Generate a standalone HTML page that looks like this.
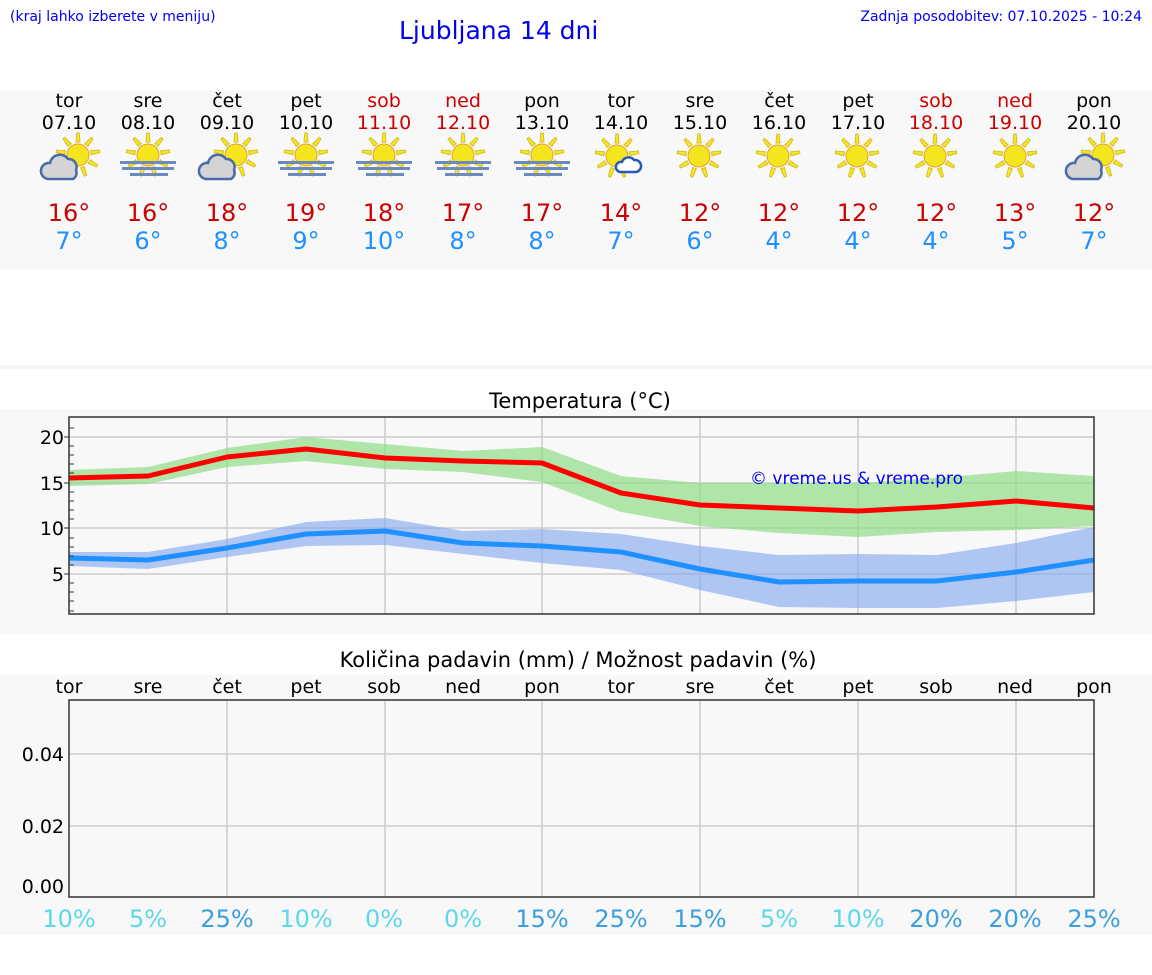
<!DOCTYPE html>
<html><head><meta charset="utf-8"><style>
body{margin:0;background:#fff}
svg{display:block;font-family:"DejaVu Sans","Liberation Sans",sans-serif}
</style></head><body>
<svg width="1152" height="975" viewBox="0 0 1152 975" xmlns="http://www.w3.org/2000/svg">
<defs>
<g id="sun">
 <g stroke="#d8c020" stroke-width="1" fill="#f5e62a">
  <polygon points="-2,-13 2,-13 1.2,-22 -1.2,-22" transform="rotate(0)"/>
  <polygon points="-2,-13 2,-13 1.2,-22 -1.2,-22" transform="rotate(40)"/>
  <polygon points="-2,-13 2,-13 1.2,-22 -1.2,-22" transform="rotate(80)"/>
  <polygon points="-2,-13 2,-13 1.2,-22 -1.2,-22" transform="rotate(120)"/>
  <polygon points="-2,-13 2,-13 1.2,-22 -1.2,-22" transform="rotate(160)"/>
  <polygon points="-2,-13 2,-13 1.2,-22 -1.2,-22" transform="rotate(200)"/>
  <polygon points="-2,-13 2,-13 1.2,-22 -1.2,-22" transform="rotate(240)"/>
  <polygon points="-2,-13 2,-13 1.2,-22 -1.2,-22" transform="rotate(280)"/>
  <polygon points="-2,-13 2,-13 1.2,-22 -1.2,-22" transform="rotate(320)"/>
 </g>
 <circle r="11" fill="#f3e51e" stroke="#e8a030" stroke-width="1"/>
</g>
<g id="fog"><use href="#sun" x="0" y="0"/>
 <rect x="-28" y="6" width="56" height="3" fill="#6a8ac0"/>
 <rect x="-26" y="12" width="52" height="3" fill="#6a8ac0"/>
 <rect x="-18" y="18" width="38" height="3" fill="#6a8ac0"/>
</g>
<g id="pc"><use href="#sun"/>
 <path d="M-30,24 a8,8 0 0 1 2,-16 a10,10 0 0 1 18,-4 a8,8 0 0 1 8,11 a7,7 0 0 1 -3,9 z" fill="#d4d4d4" stroke="#4a6aa8" stroke-width="2.5"/>
</g>
<g id="sc"><use href="#sun"/>
 <path d="M3,16 a5,5 0 0 1 2,-10 a7,7 0 0 1 12,-2 a6,6 0 0 1 2,12 z" fill="#fff" stroke="#2a5ab8" stroke-width="2.5"/>
</g>
</defs>
<rect width="1152" height="975" fill="#fff"/>
<text x="10" y="21" font-size="14" fill="#0000ee">(kraj lahko izberete v meniju)</text>
<text x="399" y="39" font-size="25" fill="#0000ee">Ljubljana 14 dni</text>
<text x="1142" y="21" font-size="14" fill="#0000ee" text-anchor="end">Zadnja posodobitev: 07.10.2025 - 10:24</text>

<rect x="0" y="90" width="1152" height="180" fill="#f8f8f8"/>
<rect x="0" y="365" width="1152" height="4" fill="#f6f6f6"/>
<rect x="0" y="409" width="1152" height="225" fill="#f8f8f8"/>
<rect x="0" y="675" width="1152" height="260" fill="#f8f8f8"/>

<g font-size="19" text-anchor="middle">
<text x="69" y="107">tor</text><text x="69" y="129">07.10</text>
<text x="148" y="107">sre</text><text x="148" y="129">08.10</text>
<text x="227" y="107">čet</text><text x="227" y="129">09.10</text>
<text x="306" y="107">pet</text><text x="306" y="129">10.10</text>
<text x="384" y="107" fill="#cc0000">sob</text><text x="384" y="129" fill="#cc0000">11.10</text>
<text x="463" y="107" fill="#cc0000">ned</text><text x="463" y="129" fill="#cc0000">12.10</text>
<text x="542" y="107">pon</text><text x="542" y="129">13.10</text>
<text x="621" y="107">tor</text><text x="621" y="129">14.10</text>
<text x="700" y="107">sre</text><text x="700" y="129">15.10</text>
<text x="779" y="107">čet</text><text x="779" y="129">16.10</text>
<text x="858" y="107">pet</text><text x="858" y="129">17.10</text>
<text x="936" y="107" fill="#cc0000">sob</text><text x="936" y="129" fill="#cc0000">18.10</text>
<text x="1015" y="107" fill="#cc0000">ned</text><text x="1015" y="129" fill="#cc0000">19.10</text>
<text x="1094" y="107">pon</text><text x="1094" y="129">20.10</text>
</g>
<use href="#pc" x="78" y="155"/>
<use href="#fog" x="148" y="155"/>
<use href="#pc" x="236" y="155"/>
<use href="#fog" x="306" y="155"/>
<use href="#fog" x="384" y="155"/>
<use href="#fog" x="463" y="155"/>
<use href="#fog" x="542" y="155"/>
<use href="#sc" x="617" y="156"/>
<use href="#sun" x="699" y="156"/>
<use href="#sun" x="778" y="156"/>
<use href="#sun" x="857" y="156"/>
<use href="#sun" x="935" y="156"/>
<use href="#sun" x="1015" y="156"/>
<use href="#pc" x="1103" y="155"/>

<g font-size="24" text-anchor="middle" fill="#cc0000">
<text x="69" y="221">16°</text><text x="148" y="221">16°</text><text x="227" y="221">18°</text><text x="306" y="221">19°</text><text x="384" y="221">18°</text><text x="463" y="221">17°</text><text x="542" y="221">17°</text><text x="621" y="221">14°</text><text x="700" y="221">12°</text><text x="779" y="221">12°</text><text x="858" y="221">12°</text><text x="936" y="221">12°</text><text x="1015" y="221">13°</text><text x="1094" y="221">12°</text>
</g>
<g font-size="24" text-anchor="middle" fill="#1e90ff">
<text x="69" y="249">7°</text><text x="148" y="249">6°</text><text x="227" y="249">8°</text><text x="306" y="249">9°</text><text x="384" y="249">10°</text><text x="463" y="249">8°</text><text x="542" y="249">8°</text><text x="621" y="249">7°</text><text x="700" y="249">6°</text><text x="779" y="249">4°</text><text x="858" y="249">4°</text><text x="936" y="249">4°</text><text x="1015" y="249">5°</text><text x="1094" y="249">7°</text>
</g>

<!-- Temperature chart -->
<text x="580" y="408" font-size="21" text-anchor="middle">Temperatura (°C)</text>
<g stroke="#cccccc" stroke-width="1.5">
<line x1="69" y1="437" x2="1094" y2="437"/><line x1="69" y1="483" x2="1094" y2="483"/><line x1="69" y1="528" x2="1094" y2="528"/><line x1="69" y1="574" x2="1094" y2="574"/>
<line x1="227" y1="417" x2="227" y2="614"/><line x1="385" y1="417" x2="385" y2="614"/><line x1="542" y1="417" x2="542" y2="614"/><line x1="700" y1="417" x2="700" y2="614"/><line x1="858" y1="417" x2="858" y2="614"/><line x1="1016" y1="417" x2="1016" y2="614"/>
</g>
<polygon fill="#90dd88" opacity="0.7" points="69,470 148,467 227,448 306,437 385,444 463,451 542,447 621,476 700,483 779,483 858,483 937,478 1016,471 1094,476 1094,526 1016,530 937,532 858,537 779,533 700,526 621,512 542,482 463,472 385,469 306,461 227,467 148,484 69,486"/>
<polygon fill="#88aaee" opacity="0.65" points="69,552 148,552 227,539 306,522 385,518 463,531 542,529 621,534 700,546 779,555 858,554 937,555 1016,543 1094,527 1094,592 1016,601 937,608 858,608 779,607 700,590 621,570 542,563 463,554 385,545 306,546 227,557 148,569 69,566"/>
<polyline fill="none" stroke="#ff0000" stroke-width="5" stroke-linejoin="round" points="69,478 148,476 227,457 306,449 385,458 463,461 542,463 621,493 700,505 779,508 858,511 937,507 1016,501 1094,508"/>
<polyline fill="none" stroke="#1e90ff" stroke-width="5" stroke-linejoin="round" points="69,558 148,560 227,548 306,534 385,531 463,543 542,546 621,552 700,569 779,582 858,581 937,581 1016,572 1094,560"/>
<text x="750" y="484" font-size="17" fill="#0000ee">© vreme.us &amp; vreme.pro</text>
<rect x="69" y="417" width="1025" height="197" fill="none" stroke="#333" stroke-width="1.5"/>
<g stroke="#333" stroke-width="1">
<line x1="69" y1="428" x2="74" y2="428"/><line x1="69" y1="446" x2="74" y2="446"/><line x1="69" y1="455" x2="74" y2="455"/><line x1="69" y1="464" x2="74" y2="464"/><line x1="69" y1="473" x2="74" y2="473"/><line x1="69" y1="492" x2="74" y2="492"/><line x1="69" y1="501" x2="74" y2="501"/><line x1="69" y1="510" x2="74" y2="510"/><line x1="69" y1="519" x2="74" y2="519"/><line x1="69" y1="538" x2="74" y2="538"/><line x1="69" y1="547" x2="74" y2="547"/><line x1="69" y1="556" x2="74" y2="556"/><line x1="69" y1="565" x2="74" y2="565"/><line x1="69" y1="583" x2="74" y2="583"/><line x1="69" y1="592" x2="74" y2="592"/><line x1="69" y1="601" x2="74" y2="601"/><line x1="69" y1="611" x2="74" y2="611"/>
<line x1="64" y1="437" x2="69" y2="437"/><line x1="64" y1="483" x2="69" y2="483"/><line x1="64" y1="528" x2="69" y2="528"/><line x1="64" y1="574" x2="69" y2="574"/>
</g>
<g font-size="19" text-anchor="end">
<text x="64" y="444">20</text><text x="64" y="490">15</text><text x="64" y="535">10</text><text x="64" y="581">5</text>
</g>

<!-- Precip chart -->
<text x="578" y="667" font-size="21" text-anchor="middle">Količina padavin (mm) / Možnost padavin (%)</text>
<g font-size="19" text-anchor="middle">
<text x="69" y="693">tor</text><text x="148" y="693">sre</text><text x="227" y="693">čet</text><text x="306" y="693">pet</text><text x="384" y="693">sob</text><text x="463" y="693">ned</text><text x="542" y="693">pon</text><text x="621" y="693">tor</text><text x="700" y="693">sre</text><text x="779" y="693">čet</text><text x="858" y="693">pet</text><text x="936" y="693">sob</text><text x="1015" y="693">ned</text><text x="1094" y="693">pon</text>
</g>
<g stroke="#cccccc" stroke-width="1.5">
<line x1="69" y1="754" x2="1094" y2="754"/><line x1="69" y1="826" x2="1094" y2="826"/>
<line x1="227" y1="700" x2="227" y2="897"/><line x1="385" y1="700" x2="385" y2="897"/><line x1="542" y1="700" x2="542" y2="897"/><line x1="700" y1="700" x2="700" y2="897"/><line x1="858" y1="700" x2="858" y2="897"/><line x1="1016" y1="700" x2="1016" y2="897"/>
</g>
<rect x="69" y="700" width="1025" height="197" fill="none" stroke="#333" stroke-width="1.5"/>
<g font-size="19" text-anchor="end">
<text x="64" y="761">0.04</text><text x="64" y="833">0.02</text><text x="64" y="893">0.00</text>
</g>
<g font-size="24" text-anchor="middle">
<text x="69" y="927" fill="#5bd8ea">10%</text><text x="148" y="927" fill="#5bd8ea">5%</text><text x="227" y="927" fill="#3a9fdc">25%</text><text x="306" y="927" fill="#5bd8ea">10%</text><text x="384" y="927" fill="#5bd8ea">0%</text><text x="463" y="927" fill="#5bd8ea">0%</text><text x="542" y="927" fill="#3a9fdc">15%</text><text x="621" y="927" fill="#3a9fdc">25%</text><text x="700" y="927" fill="#3a9fdc">15%</text><text x="779" y="927" fill="#5bd8ea">5%</text><text x="858" y="927" fill="#5bd8ea">10%</text><text x="936" y="927" fill="#3a9fdc">20%</text><text x="1015" y="927" fill="#3a9fdc">20%</text><text x="1094" y="927" fill="#3a9fdc">25%</text>
</g>
</svg>
</body></html>
